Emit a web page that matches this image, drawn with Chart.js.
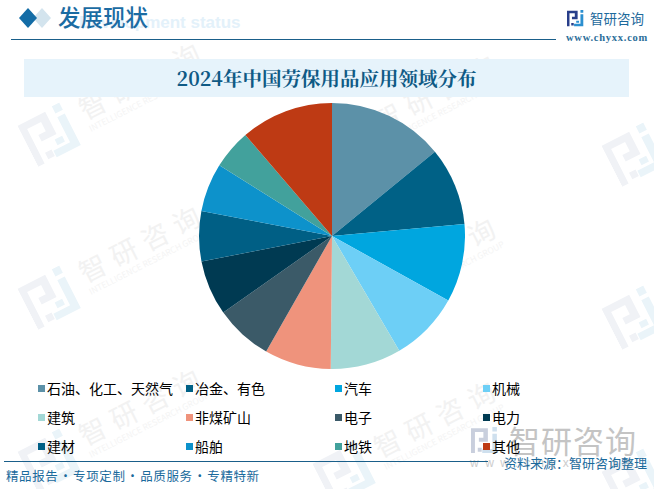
<!DOCTYPE html>
<html>
<head>
<meta charset="utf-8">
<script src="https://cdn.jsdelivr.net/npm/chart.js@4"></script>
<style>
  html, body { margin: 0; padding: 0; background: #fff; }
  body { width: 654px; height: 489px; position: relative; overflow: hidden; font-family: "Noto Sans CJK SC", "Noto Sans", sans-serif; }
  .abs { position: absolute; white-space: nowrap; }
  .wm { position: absolute; width: 0; height: 0; transform: rotate(-27deg); transform-origin: 0 0; white-space: nowrap; }
  .wm svg { position: absolute; left: -25px; top: -25px; width: 50px; height: 50px; }
  .wm .cn { position: absolute; left: 38px; top: -26px; font-size: 27px; line-height: 36px; color: #f2f2f2; letter-spacing: 8px; }
  .wm .en { position: absolute; left: 38px; top: 7px; font-size: 8.5px; line-height: 11px; color: #f4f4f4; }
  #chartBox { position: absolute; left: 199px; top: 103px; width: 266px; height: 266px; }
  .legendItem { position: absolute; font-size: 14px; line-height: 18px; color: #000; white-space: nowrap; }
  .legendItem i { position: absolute; left: -9px; top: 6px; width: 7px; height: 7px; }
</style>
</head>
<body>
<svg width="0" height="0" style="position:absolute">
  <symbol id="logoDark" viewBox="0 0 24 24"><path d="M0 1H15V13H7V9.5H11V4.5H3.5V23H0Z M6 18.5H9.5V22H6Z"/></symbol>
  <symbol id="logoLight" viewBox="0 0 24 24"><path d="M19 0H23V4H19Z M19 6H23V23H10V19.5H19Z M13 15H17V18H13Z"/></symbol>
</svg>

<div id="watermarks"></div>

<!-- header -->
<svg class="abs" style="left:16px;top:6px" width="36" height="24">
  <path d="M26 2 L35 12 L26 22 L17 12 Z" fill="#d3e4ee"/>
  <path d="M12 2 L21 12 L12 22 L3 12 Z" fill="#136ca6"/>
</svg>
<div class="abs" style="left:79px;top:10px;font-size:17px;line-height:26px;font-weight:700;color:#e3f1fa;font-family:'Liberation Sans',sans-serif;">Development status</div>
<div class="abs" style="left:58px;top:0px;font-size:22.5px;line-height:32px;color:#1b6ca3;font-weight:500;">发展现状</div>
<div class="abs" style="left:11px;top:39px;width:545px;height:1px;background:#1a5f8a"></div>
<svg class="abs" style="left:567px;top:10px" width="17" height="17"><use href="#logoDark" fill="#283e8a"/><use href="#logoLight" fill="#2b8fd0"/></svg>
<div class="abs" style="left:590px;top:9px;font-size:13.5px;line-height:18px;color:#1d6a9c">智研咨询</div>
<div class="abs" style="left:566px;top:31px;font-size:10.5px;line-height:13px;letter-spacing:0.75px;color:#2c6e99;font-family:'Liberation Serif',serif;font-weight:700">www.chyxx.com</div>

<!-- title band -->
<div class="abs" style="left:24px;top:59px;width:605px;height:38px;background:#e6f3fb"></div>
<div class="abs" style="left:24px;top:59px;width:605px;height:38px;line-height:38px;text-align:center;font-size:19.5px;font-weight:700;color:#0f5a85;font-family:'Noto Serif CJK SC','Liberation Serif','Noto Sans CJK SC',serif">2024年中国劳保用品应用领域分布</div>

<div id="chartBox"><canvas id="pieChart" width="266" height="266"></canvas></div>

<!-- gray stamp behind the legend text -->
<svg class="abs" style="left:471px;top:427px" width="27" height="27"><use href="#logoDark" fill="#c9cfdd"/><use href="#logoLight" fill="#cfe0ee"/></svg>
<div class="abs" style="left:509px;top:420px;font-size:31px;line-height:40px;letter-spacing:1px;color:#c4c4c4">智研咨询</div>
<div class="abs" style="left:470px;top:456px;font-size:12px;line-height:14px;letter-spacing:6.5px;color:#cccccc;font-family:'Liberation Sans',sans-serif">www.chyxx.com</div>

<div id="legend"></div>

<!-- footer -->
<div class="abs" style="left:4px;top:461px;width:484px;height:1px;background:#1a5f8a"></div>
<div class="abs" style="left:6px;top:467px;font-size:12.5px;line-height:18px;letter-spacing:0.6px;word-spacing:-2.6px;color:#1a6a9c">精品报告 · 专项定制 · 品质服务 · 专精特新</div>
<div class="abs" style="left:504px;top:454px;font-size:13px;line-height:18px;color:#1a6a9c">资料来源：智研咨询整理</div>

<script>
const categories = ['石油、化工、天然气', '冶金、有色', '汽车', '机械', '建筑', '非煤矿山', '电子', '电力', '建材', '船舶', '地铁', '其他']
const shares = [14.1, 9.5, 9.5, 8.5, 8.6, 8.1, 7.0, 6.7, 6.1, 5.9, 4.8, 11.3]
const sliceColors = ['#5c91a8', '#006186', '#00a6df', '#6dcff6', '#a3d8d6', '#ef937c', '#3b5a68', '#003a52', '#005f85', '#0d92cb', '#42a19c', '#be3a14']

const legendColumns = [47, 195, 344, 492]
const legendRows = [379, 408, 437]

// faint company marks behind everything, anchored on the logo centre
const watermarkSpots = [[50, 135], [50, 298], [50, 461], [345, 147], [345, 310], [345, 473], [634, 155], [634, 318], [634, 481]]

const drawWatermarks = () => {
  const holder = document.querySelector('#watermarks')
  watermarkSpots.forEach(([x, y]) => {
    const mark = document.createElement('div')
    mark.className = 'wm'
    mark.style.left = `${x}px`
    mark.style.top = `${y}px`
    mark.innerHTML = `<svg viewBox="0 0 24 24"><use href="#logoDark" fill="#f0f2f6"/><use href="#logoLight" fill="#eaf4f9"/></svg>
      <div class="cn">智研咨询</div><div class="en">INTELLIGENCE RESEARCH GROUP</div>`
    holder.appendChild(mark)
  })
}

const drawLegend = () => {
  const holder = document.querySelector('#legend')
  categories.forEach((name, i) => {
    const item = document.createElement('div')
    item.className = 'legendItem'
    item.style.left = `${legendColumns[i % 4]}px`
    item.style.top = `${legendRows[Math.floor(i / 4)]}px`
    item.innerHTML = `<i style="background:${sliceColors[i]}"></i>${name}`
    holder.appendChild(item)
  })
}

drawWatermarks()
drawLegend()

new Chart(document.querySelector('#pieChart'), {
  type: 'pie',
  data: {
    labels: categories,
    datasets: [{
      data: shares,
      backgroundColor: sliceColors,
      borderWidth: 0
    }]
  },
  options: {
    responsive: false,
    animation: false,
    layout: { padding: 0 },
    plugins: {
      legend: { display: false },
      title: { display: false },
      tooltip: { enabled: false }
    }
  }
})
</script>
</body>
</html>
